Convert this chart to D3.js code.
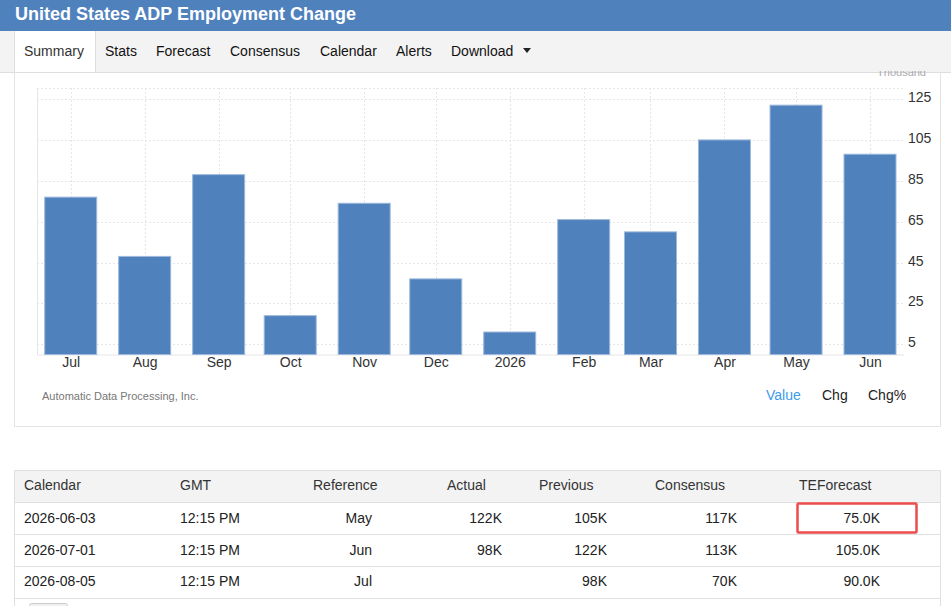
<!DOCTYPE html>
<html>
<head>
<meta charset="utf-8">
<script src="https://cdn.jsdelivr.net/npm/d3@7"></script>
<style>
  html, body { margin: 0; padding: 0; background: #fff; }
  svg { display: block; font-family: "Liberation Sans", Arial, sans-serif; }
</style>
</head>
<body>
<div id="chart"></div>
<script>
// ADP Employment Change summary page: bar chart + calendar table

const periods = ['2025-07-01', '2025-08-01', '2025-09-01', '2025-10-01', '2025-11-01', '2025-12-01',
                 '2026-01-01', '2026-02-01', '2026-03-01', '2026-04-01', '2026-05-01', '2026-06-01'];
const monthLabels = ['Jul', 'Aug', 'Sep', 'Oct', 'Nov', 'Dec', '2026', 'Feb', 'Mar', 'Apr', 'May', 'Jun'];
const values = [77, 48, 88, 19, 74, 37, 11, 66, 60, 105, 122, 98];
const yTicks = [5, 25, 45, 65, 85, 105, 125];

const navItems = ['Summary', 'Stats', 'Forecast', 'Consensus', 'Calendar', 'Alerts', 'Download'];
const tableHeaders = ['Calendar', 'GMT', 'Reference', 'Actual', 'Previous', 'Consensus', 'TEForecast'];
const calendarDates = ['2026-06-03', '2026-07-01', '2026-08-05'];
const gmtTimes = ['12:15 PM', '12:15 PM', '12:15 PM'];
const references = ['May', 'Jun', 'Jul'];
const actuals = ['122K', '98K', ''];
const previous = ['105K', '122K', '98K'];
const consensus = ['117K', '113K', '70K'];
const teForecast = ['75.0K', '105.0K', '90.0K'];

const W = 951, H = 606;
const BLUE = '#4f81bd';
const parse = d3.utcParse('%Y-%m-%d');
const dates = periods.map(parse);

const svg = d3.select('#chart').append('svg')
    .attr('width', W).attr('height', H);

// Title bar
svg.append('rect').attr('x', 0).attr('y', 0).attr('width', W).attr('height', 31).attr('fill', BLUE);
svg.append('text').attr('x', 15).attr('y', 20)
    .attr('fill', '#fff').attr('font-size', '18px').attr('font-weight', 'bold')
    .text('United States ADP Employment Change');

// Nav bar
svg.append('rect').attr('x', 0).attr('y', 31).attr('width', W).attr('height', 41).attr('fill', '#f3f3f3');
svg.append('rect').attr('x', 14).attr('y', 31).attr('width', 81).attr('height', 41).attr('fill', '#fff');
svg.append('line').attr('x1', 14.5).attr('x2', 14.5).attr('y1', 31).attr('y2', 72).attr('stroke', '#ddd');
svg.append('line').attr('x1', 95.5).attr('x2', 95.5).attr('y1', 31).attr('y2', 72).attr('stroke', '#ddd');
svg.append('line').attr('x1', 0).attr('x2', W).attr('y1', 72.5).attr('y2', 72.5).attr('stroke', '#ddd');
const navX = [24, 105, 156, 230, 320, 396, 451];
navItems.forEach((t, i) => {
    svg.append('text').attr('x', navX[i]).attr('y', 56)
        .attr('fill', i === 0 ? '#333' : '#111').attr('font-size', '14px').text(t);
});
svg.append('path').attr('d', 'M523,48 L531,48 L527,53 Z').attr('fill', '#222');

// Unit label, mostly hidden behind the nav
svg.append('clipPath').attr('id', 'unit-clip')
    .append('rect').attr('x', 860).attr('y', 71).attr('width', 80).attr('height', 6);
svg.append('text').attr('x', 926).attr('y', 76).attr('text-anchor', 'end')
    .attr('clip-path', 'url(#unit-clip)')
    .attr('fill', '#aaa').attr('font-size', '11px').text('Thousand');

// Content panel border
svg.append('path').attr('d', 'M14.5,72 L14.5,426.5 L940.5,426.5 L940.5,72')
    .attr('fill', 'none').attr('stroke', '#e3e3e3');

// Chart — x is a time axis, so month widths follow day counts
const plot = { left: 37, right: 904, top: 88, bottom: 354.5 };
const barW = 52;
const x = d3.scaleUtc().domain([dates[0], dates[dates.length - 1]]).range([70.7, 870]);
const y = d3.scaleLinear().domain([0, 130.4]).range([plot.bottom, plot.top]);

const g = svg.append('g');

// grid
g.selectAll('.hgrid').data(yTicks).join('line')
    .attr('x1', plot.left).attr('x2', plot.right)
    .attr('y1', d => Math.round(y(d)) + 0.5).attr('y2', d => Math.round(y(d)) + 0.5)
    .attr('stroke', '#e6e6e6').attr('stroke-dasharray', '2,2');
g.selectAll('.vgrid').data(dates).join('line')
    .attr('x1', d => Math.round(x(d)) + 0.5)
    .attr('x2', d => Math.round(x(d)) + 0.5)
    .attr('y1', plot.top).attr('y2', plot.bottom)
    .attr('stroke', '#e6e6e6').attr('stroke-dasharray', '2,2');
g.append('line').attr('x1', plot.left).attr('x2', plot.right).attr('y1', plot.top + 0.5).attr('y2', plot.top + 0.5)
    .attr('stroke', '#e6e6e6').attr('stroke-dasharray', '2,2');
g.append('line').attr('x1', plot.left + 0.5).attr('x2', plot.left + 0.5).attr('y1', plot.top).attr('y2', plot.bottom)
    .attr('stroke', '#e6e6e6');
g.append('line').attr('x1', plot.left).attr('x2', plot.right).attr('y1', plot.bottom + 0.5).attr('y2', plot.bottom + 0.5)
    .attr('stroke', '#e6e6e6');

// bars
g.selectAll('.bar').data(values).join('rect')
    .attr('x', (d, i) => x(dates[i]) - barW / 2)
    .attr('y', d => y(d))
    .attr('width', barW)
    .attr('height', d => y(0) - y(d))
    .attr('fill', BLUE)
    .attr('stroke', '#9db8dc').attr('stroke-width', 1);

// axes
const xAxis = g.append('g').attr('transform', `translate(0,${plot.bottom})`)
    .call(d3.axisBottom(x).tickValues(dates)
        .tickFormat((d, i) => monthLabels[i]).tickSize(0).tickPadding(3));
xAxis.select('.domain').remove();
xAxis.selectAll('text').attr('font-size', '14px').attr('fill', '#333')
    .attr('font-family', '"Liberation Sans", Arial, sans-serif');

const yAxis = g.append('g').attr('transform', `translate(${plot.right},-2)`)
    .call(d3.axisRight(y).tickValues(yTicks).tickSize(0).tickPadding(4));
yAxis.select('.domain').remove();
yAxis.selectAll('text').attr('font-size', '14px').attr('fill', '#333')
    .attr('font-family', '"Liberation Sans", Arial, sans-serif');

// source + view toggles
svg.append('text').attr('x', 42).attr('y', 400)
    .attr('fill', '#777').attr('font-size', '11px').text('Automatic Data Processing, Inc.');
const toggles = [['Value', 766, '#3d9be9'], ['Chg', 822, '#222'], ['Chg%', 868, '#222']];
toggles.forEach(([t, tx, c]) => {
    svg.append('text').attr('x', tx).attr('y', 400).attr('fill', c).attr('font-size', '14px').text(t);
});

// Table
const tLeft = 14, tRight = 940;
const rowTop = [470, 502, 534, 566, 598];
svg.append('rect').attr('x', tLeft).attr('y', 470).attr('width', tRight - tLeft).attr('height', 32).attr('fill', '#f3f3f3');
rowTop.forEach(ry => {
    svg.append('line').attr('x1', tLeft).attr('x2', tRight).attr('y1', ry + 0.5).attr('y2', ry + 0.5).attr('stroke', '#e0e0e0');
});
svg.append('line').attr('x1', tLeft + 0.5).attr('x2', tLeft + 0.5).attr('y1', 470).attr('y2', H).attr('stroke', '#e0e0e0');
svg.append('line').attr('x1', tRight + 0.5).attr('x2', tRight + 0.5).attr('y1', 470).attr('y2', H).attr('stroke', '#e0e0e0');

const headX = [24, 180, 313, 447, 539, 655, 799];
tableHeaders.forEach((t, i) => {
    svg.append('text').attr('x', headX[i]).attr('y', 490).attr('fill', '#333').attr('font-size', '14px').text(t);
});

// columns: [data, x, anchor]
const cols = [
    [calendarDates, 24, 'start'],
    [gmtTimes, 180, 'start'],
    [references, 372, 'end'],
    [actuals, 502, 'end'],
    [previous, 607, 'end'],
    [consensus, 737, 'end'],
    [teForecast, 880, 'end']
];
const rowBase = [523, 555, 586];
cols.forEach(([arr, cx, anchor]) => {
    arr.forEach((t, r) => {
        svg.append('text').attr('x', cx).attr('y', rowBase[r]).attr('text-anchor', anchor)
            .attr('fill', '#222').attr('font-size', '14px').text(t);
    });
});

// highlight on the upcoming forecast
svg.append('rect').attr('x', 797.5).attr('y', 503.5).attr('width', 119).attr('height', 29)
    .attr('fill', 'none').attr('stroke', '#ec4c4c').attr('stroke-width', 2.5).attr('rx', 1);

// partial control under the table
svg.append('rect').attr('x', 29.5).attr('y', 603.5).attr('width', 38).attr('height', 10).attr('rx', 2)
    .attr('fill', '#f0f0f0').attr('stroke', '#ccc');
</script>
</body>
</html>
